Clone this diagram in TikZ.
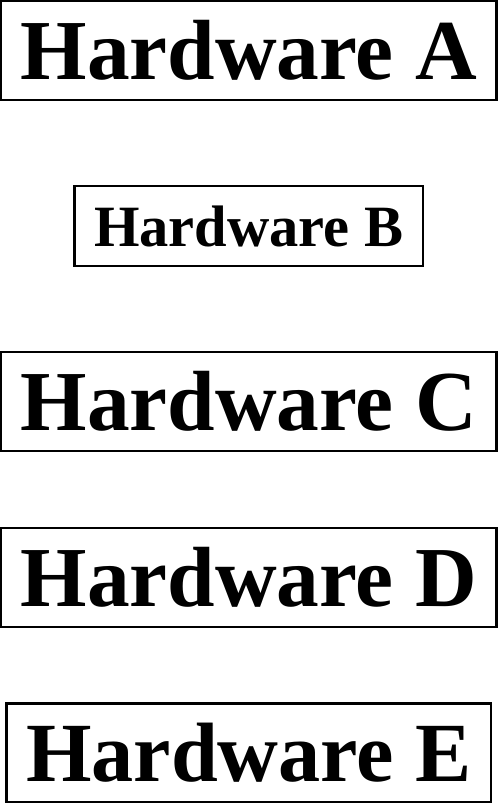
\documentclass[tikz,border=0pt]{standalone}
\usepackage{fontspec}
\newfontfamily\labelfont{Liberation Serif}
\begin{document}
\begin{tikzpicture}[x=0.75pt,y=-0.75pt]
\node[draw,font=\labelfont\bfseries\fontsize{14.6}{17.3}\selectfont] (a) at (0,0) {Hardware A};
\node[draw,font=\labelfont\bfseries] (b) at (0,40) {Hardware B};
\node[draw,font=\fontsize{14.6}{17.3}\selectfont\labelfont\bfseries] (c) at (0,80) {Hardware C};
\node[draw] (d) at (0,120) {\labelfont\bfseries\fontsize{14.6}{17.3}\selectfont Hardware D};
\node[draw,font=\labelfont\bfseries\Large] (e) at (0,160) {Hardware E};
\end{tikzpicture}
\end{document}
